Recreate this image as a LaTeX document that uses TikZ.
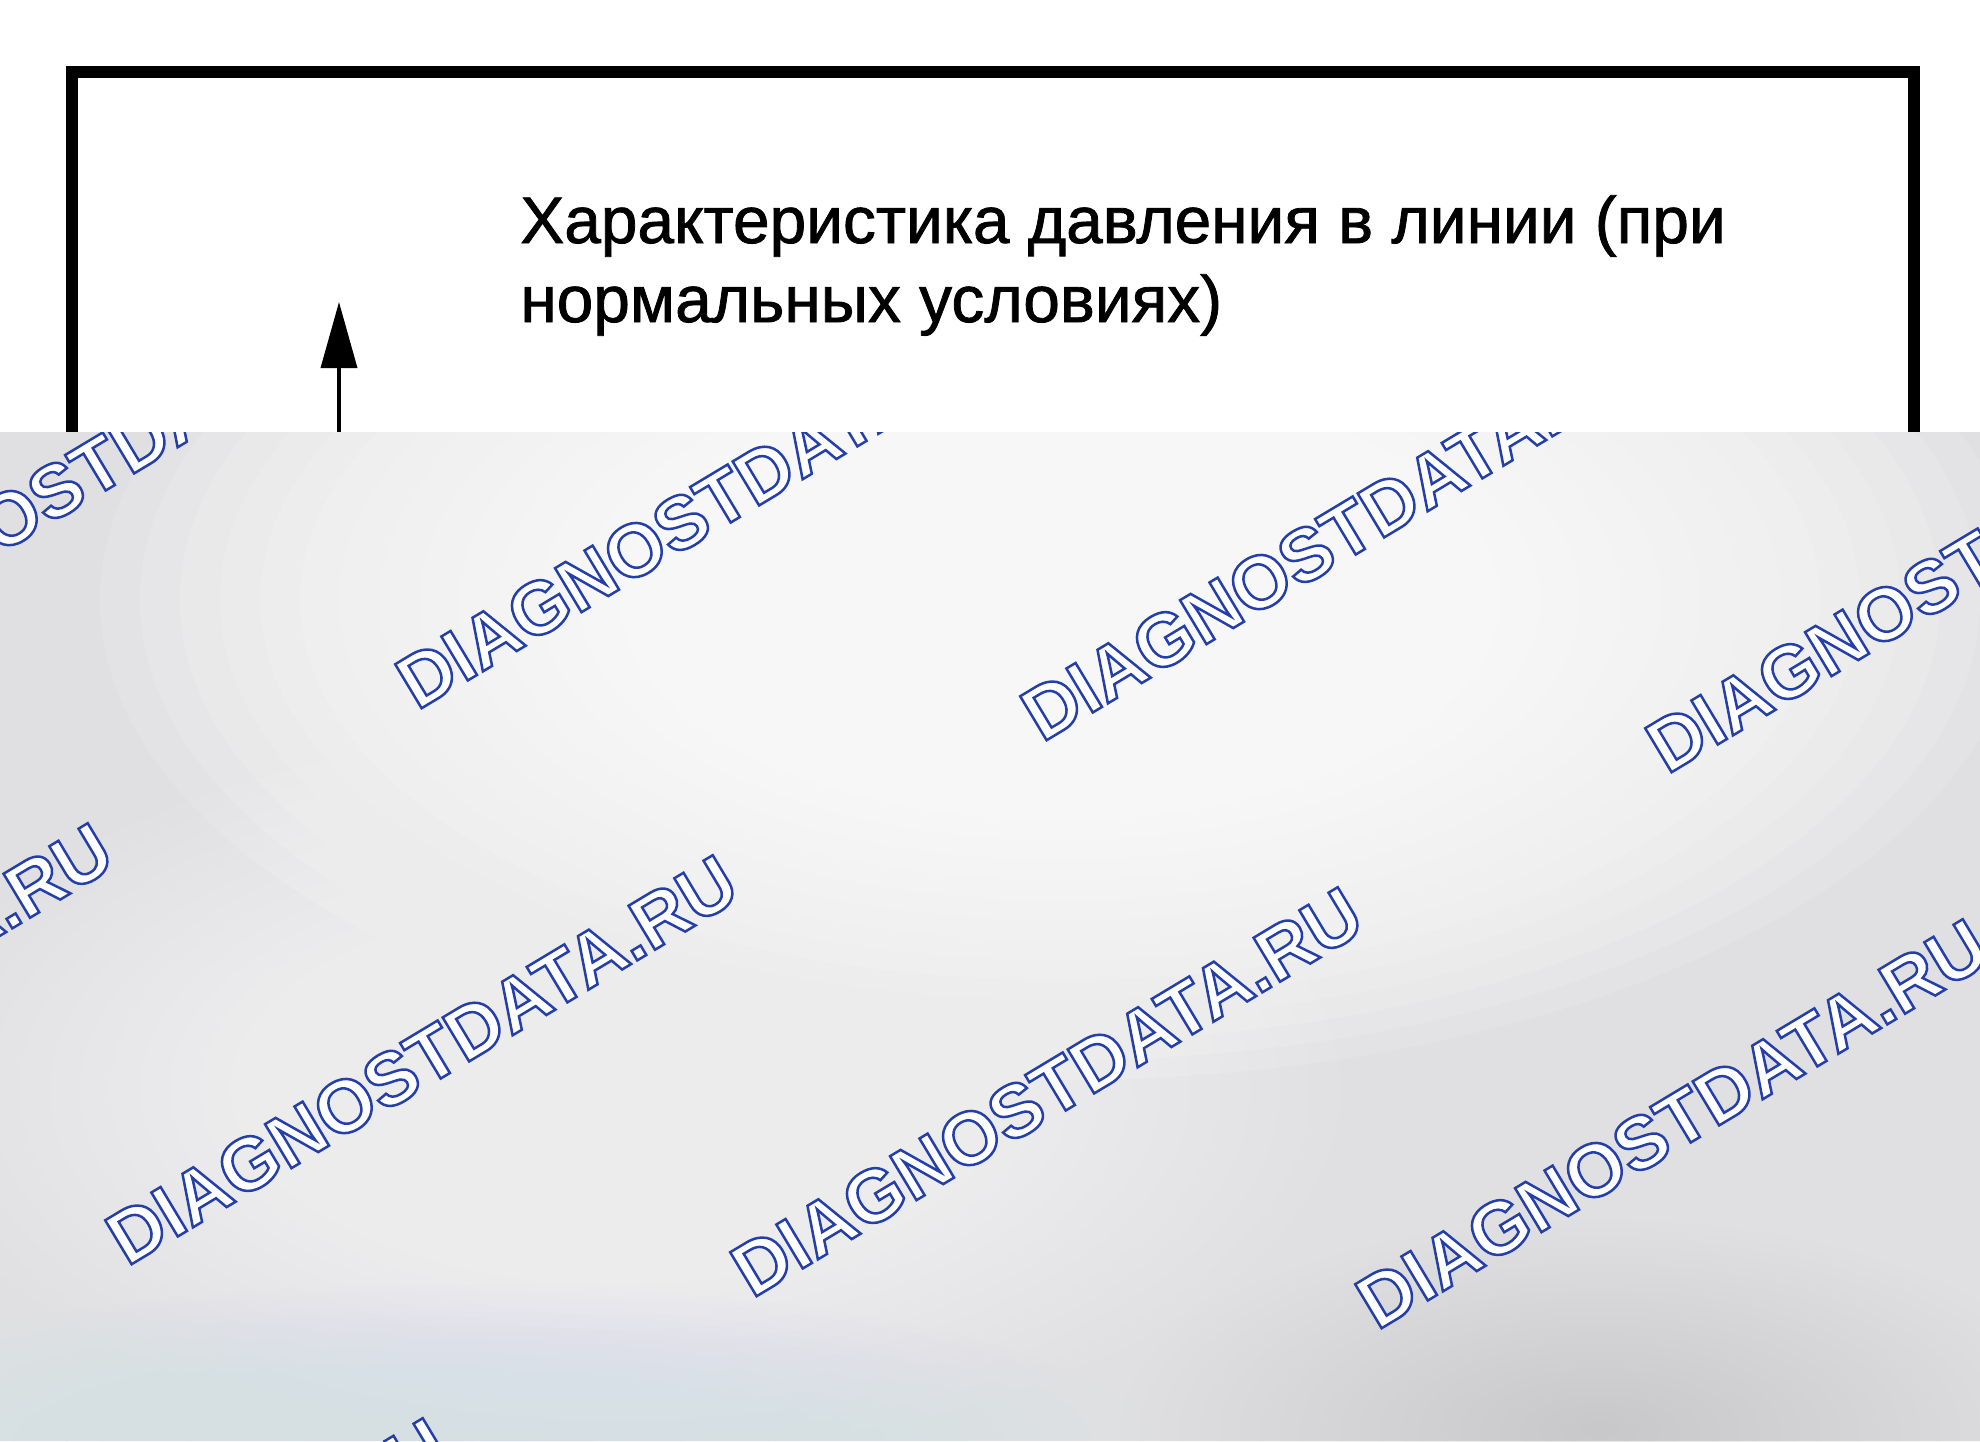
\documentclass[tikz,border=0pt]{standalone}
\usepackage{fontspec}
\setmainfont{Liberation Sans}
\newfontfamily\wmfam{Liberation Sans}
\newfontface\capfont{Liberation Sans}[FakeBold=1.2]
\usetikzlibrary{arrows.meta}
\definecolor{bgbase}{RGB}{224,224,226}
\definecolor{bgblue}{RGB}{214,224,246}
\definecolor{wmblue}{RGB}{36,62,170}
\newcommand{\wmword}{DIAGNOSTDATA.RU}
\newcommand{\wmoutline}{\special{pdf:literal direct 1 Tr 1.25 w}\wmword\special{pdf:literal direct 0 Tr}}
\tikzset{
  frameline/.style={line width=6pt, line join=miter},
  caption/.style={anchor=base west, inner sep=0pt, font=\capfont\fontsize{32.9}{39.5}\selectfont},
  arrowline/.style={line width=1.8pt, -{Triangle[length=33pt,width=18pt]}},
  wmbase/.style={anchor=base west, rotate=31, inner sep=0pt, font=\wmfam\bfseries\fontsize{37.3}{40}\selectfont},
  wmfill/.style={wmbase, text=white},
  wmline/.style={wmbase, text=wmblue}
}
\newcommand{\wmark}[2]{%
  \node[wmfill] (wmf#2) at (#1) {\wmword};
  \node[wmline] (wml#2) at (#1) {\wmoutline};
}
% soft blob: x, y, x radius, y radius, colour, opacity of each of 24 layers
\newcommand{\blob}[6]{%
  \foreach \k in {1,...,24}{%
    \fill[#5, opacity=#6] (#1,#2) ellipse [x radius={#3/24*\k}, y radius={#4/24*\k}];
  }%
}
\begin{document}
\begin{tikzpicture}[x=0.5pt,y=-0.5pt]
\useasboundingbox (0,0) rectangle (1980,1441);
\fill[white] (0,0) rectangle (1980,1441);
% frame
\draw[frameline] (72,1441) -- (72,72) -- (1914,72) -- (1914,1441);
% arrow
\coordinate (arrfoot) at (339,470);
\coordinate (arrtip) at (339,302);
\draw[arrowline] (arrfoot) -- (arrtip);
% grey overlay with watermark
\begin{scope}
  \clip (0,432) rectangle (1980,1441);
  \fill[bgbase] (0,432) rectangle (1980,1441);
  \blob{1060}{600}{960}{480}{white}{0.12}
  \blob{620}{1090}{720}{360}{white}{0.05}
  \blob{1600}{1430}{480}{210}{black}{0.0037}
  \blob{450}{1445}{700}{160}{bgblue}{0.012}
  \wmark{-208,679}{r1a}
  \wmark{417,711}{r1b}
  \wmark{1042,743}{r1c}
  \wmark{1667,775}{r1d}
  \wmark{-498,1235}{r2a}
  \wmark{127,1267}{r2b}
  \wmark{752,1299}{r2c}
  \wmark{1377,1331}{r2d}
  \wmark{-163,1830}{r3a}
  \wmark{462,1862}{r3b}
  \wmark{1087,1894}{r3c}
\end{scope}
% caption
\node[caption] (cap1) at (520,243) {Характеристика давления в линии (при};
\node[caption] (cap2) at (520,322) {нормальных условиях)};
\end{tikzpicture}
\end{document}
